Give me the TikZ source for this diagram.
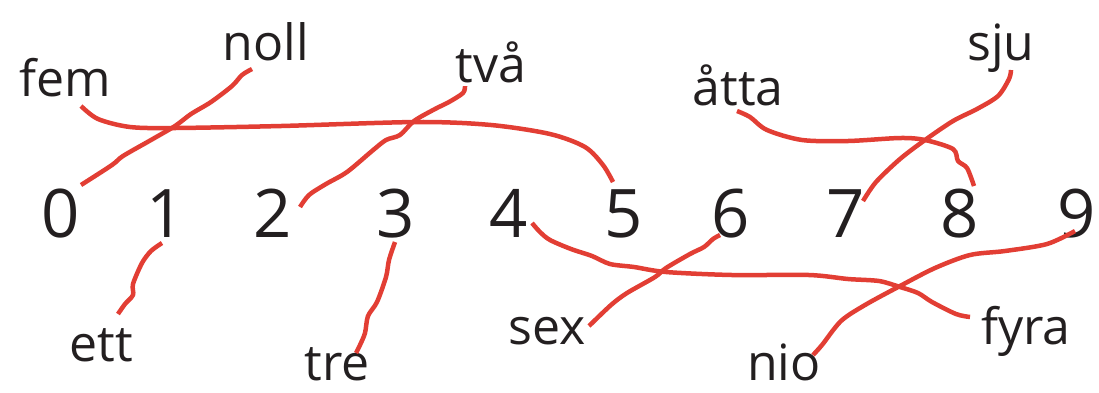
\documentclass[tikz,border=0pt]{standalone}
\usepackage{fontspec}
\setmainfont{Open Sans}
\definecolor{pen}{RGB}{226,62,52}
\definecolor{ink}{RGB}{35,31,32}
\begin{document}
\begin{tikzpicture}[x=1pt,y=-1pt,
  digit/.style={text=ink,font=\fontsize{67}{70}\selectfont,inner sep=0pt,anchor=base},
  word/.style={text=ink,font=\fontsize{50}{60}\selectfont,inner sep=0pt,anchor=base},
  link/.style={draw=pen,line width=4.5pt,line join=round}]
\useasboundingbox (0,0) rectangle (1099,392);
% digits
\node[digit] (d0) at (61,237) {0};
\node[digit] (d1) at (166,237) {1};
\node[digit] (d2) at (273,237) {2};
\node[digit] (d3) at (396,237) {3};
\node[digit] (d4) at (509,237) {4};
\node[digit] (d5) at (624,237) {5};
\node[digit] (d6) at (731,237) {6};
\node[digit] (d7) at (846,237) {7};
\node[digit] (d8) at (960,237) {8};
\node[digit] (d9) at (1077,237) {9};
% words
\node[word] (fem) at (65,96) {fem};
\node[word] (noll) at (266,60) {noll};
\node[word] (tva) at (491,82) {två};
\node[word] (atta) at (738,105) {åtta};
\node[word] (sju) at (1001,60) {sju};
\node[word] (ett) at (101,361) {ett};
\node[word] (tre) at (337,380) {tre};
\node[word] (sex) at (547,344) {sex};
\node[word] (nio) at (784,380) {nio};
\node[word] (fyra) at (1026,344) {fyra};
% connector ends
\coordinate (noll-e) at (252,69);  \coordinate (d0-e) at (81,185);
\coordinate (fem-e) at (81,106);   \coordinate (d5-e) at (613,182);
\coordinate (tva-e) at (465,86);   \coordinate (d2-e) at (300,207);
\coordinate (atta-e) at (737,111); \coordinate (d8-e) at (974,186);
\coordinate (sju-e) at (1011,70);  \coordinate (d7-e) at (863,201);
\coordinate (d1-e) at (162,243);   \coordinate (ett-e) at (118,314);
\coordinate (d3-e) at (395,242);   \coordinate (tre-e) at (356,353);
\coordinate (d4-e) at (532,223);   \coordinate (fyra-e) at (970,317);
\coordinate (d6-e) at (720,235);   \coordinate (sex-e) at (589,326);
\coordinate (d9-e) at (1075,231);  \coordinate (nio-e) at (813,355);
% connectors
\draw[link] plot[smooth] coordinates {(noll-e) (242,75) (232,86) (211,102) (191,114) (175,126) (151,140) (123,156) (112,165) (d0-e)};
\draw[link] plot[smooth] coordinates {(fem-e) (98,119) (130,127) (175,128) (281,126) (418,122) (491,125) (550,134) (585,147) (603,165) (d5-e)};
\draw[link] plot[smooth] coordinates {(tva-e) (463,93) (449,102) (435,109) (414,121) (400,135) (386,140) (372,151) (347,172) (326,184) (309,195) (d2-e)};
\draw[link] plot[smooth] coordinates {(atta-e) (750,117) (767,130) (802,140) (848,141) (900,138) (925,140) (953,149) (958,161) (967,168) (d8-e)};
\draw[link] plot[smooth] coordinates {(sju-e) (1009,79) (998,96) (977,109) (953,121) (925,140) (900,159) (876,182) (d7-e)};
\draw[link] plot[smooth] coordinates {(d1-e) (151,251) (142,263) (133,284) (133,295) (125,304) (ett-e)};
\draw[link] plot[smooth] coordinates {(d3-e) (389,260) (386,277) (377,302) (368,316) (365,333) (360,345) (tre-e)};
\draw[link] plot[smooth] coordinates {(d4-e) (540,232) (550,240) (571,249) (592,256) (610,264) (634,267) (666,272) (732,275) (809,275) (848,279) (879,281) (900,287) (918,293) (932,302) (956,314) (fyra-e)};
\draw[link] plot[smooth] coordinates {(d6-e) (713,239) (704,247) (690,254) (666,268) (655,277) (627,293) (611,305) (sex-e)};
\draw[link] plot[smooth] coordinates {(d9-e) (1047,244) (1005,251) (970,255) (935,268) (900,286) (865,305) (841,321) (822,345) (nio-e)};
\end{tikzpicture}
\end{document}
